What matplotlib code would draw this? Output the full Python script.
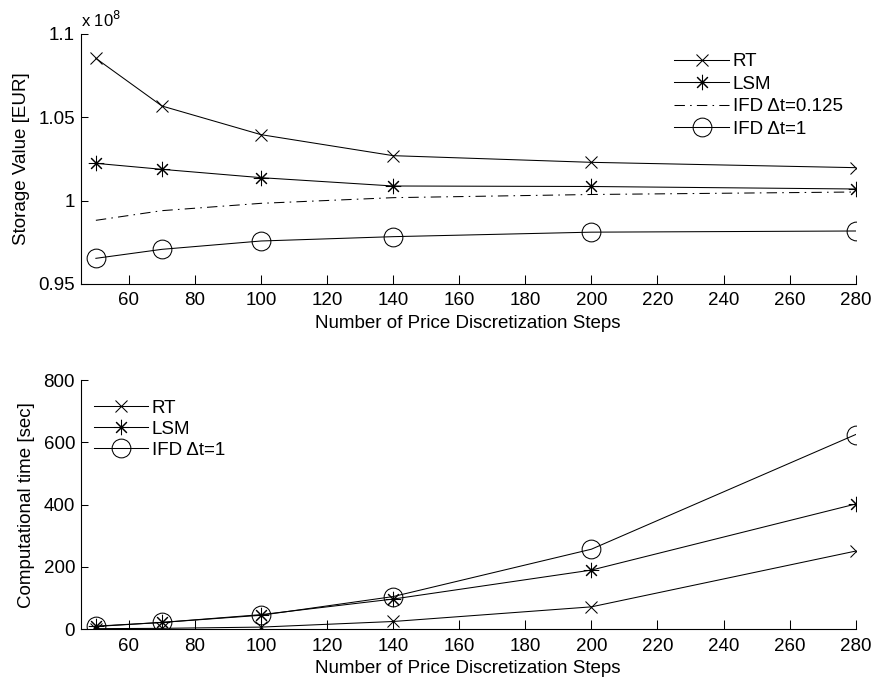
import matplotlib
matplotlib.use('Agg')
import matplotlib.pyplot as plt
from matplotlib.ticker import FuncFormatter

plt.rcParams['font.family'] = 'Liberation Sans'
plt.rcParams['font.size'] = 13.5

# price discretization steps
steps = [50, 70, 100, 140, 200, 280]

# storage value (in 1e8 EUR)
val_rt = [1.0854, 1.0568, 1.0396, 1.0270, 1.0230, 1.0198]
val_lsm = [1.0224, 1.0188, 1.0138, 1.0088, 1.0085, 1.0070]
val_ifd_fine = [0.9882, 0.9940, 0.9984, 1.0018, 1.0037, 1.0052]
val_ifd_1 = [0.9654, 0.9708, 0.9758, 0.9784, 0.9811, 0.9818]

# computational time (sec)
time_rt = [2, 3, 7, 25, 72, 251]
time_lsm = [10, 22, 47, 97, 190, 402]
time_ifd_1 = [9, 22, 45, 105, 257, 625]

xticks = [60, 80, 100, 120, 140, 160, 180, 200, 220, 240, 260, 280]

fig = plt.figure(figsize=(8.74, 6.84), dpi=100)
ax1 = fig.add_axes([0.0923, 0.5848, 0.8867, 0.3655])
ax2 = fig.add_axes([0.0923, 0.0800, 0.8867, 0.3644])

lw = 0.75
mw = 0.75
ax1.plot(steps, val_rt, color='black', lw=lw, marker='x', ms=9, mew=mw, label='RT')
ax1.plot(steps, val_lsm, color='black', lw=lw, marker=(8, 2, 0), ms=11, mew=mw, label='LSM')
ax1.plot(steps, val_ifd_fine, color='black', lw=lw, ls=(0, (10, 5, 1.5, 5)), label='IFD Δt=0.125')
ax1.plot(steps, val_ifd_1, color='black', lw=lw, marker='o', ms=13.5, mfc='none', mew=mw, label='IFD Δt=1')

ax2.plot(steps, time_rt, color='black', lw=lw, marker='x', ms=9, mew=mw, label='RT')
ax2.plot(steps, time_lsm, color='black', lw=lw, marker=(8, 2, 0), ms=11, mew=mw, label='LSM')
ax2.plot(steps, time_ifd_1, color='black', lw=lw, marker='o', ms=13.5, mfc='none', mew=mw, label='IFD Δt=1')

ax1.set_ylim(0.95, 1.1)
ax1.set_yticks([0.95, 1.0, 1.05, 1.1])
ax1.yaxis.set_major_formatter(FuncFormatter(lambda v, p: f'{v:g}'))
ax1.set_ylabel('Storage Value [EUR]', labelpad=6)
ax1.text(0.0, 1.015, r'x 10$^{8}$', transform=ax1.transAxes, ha='left', va='bottom', fontsize=12)

ax2.set_ylim(0, 800)
ax2.set_yticks([0, 200, 400, 600, 800])
ax2.set_ylabel('Computational time [sec]', labelpad=6)

for ax in (ax1, ax2):
    ax.set_xlim(45.4, 280)
    ax.set_xticks(xticks)
    ax.set_xlabel('Number of Price Discretization Steps', labelpad=4)
    ax.spines['top'].set_visible(False)
    ax.spines['right'].set_visible(False)
    for s in ('left', 'bottom'):
        ax.spines[s].set_linewidth(0.8)
    ax.tick_params(axis='x', direction='in', length=6.5, width=0.75, pad=6)
    ax.tick_params(axis='y', direction='in', length=5, width=0.75, pad=4)

ax1.legend(loc='upper right', bbox_to_anchor=(1.0, 0.975), frameon=False,
           handlelength=2.9, handletextpad=0.2, labelspacing=0.28, borderaxespad=0.3)
ax2.legend(loc='upper left', bbox_to_anchor=(0.0, 0.975), frameon=False,
           handlelength=2.9, handletextpad=0.2, labelspacing=0.22, borderaxespad=0.3)

fig.savefig('out.png', dpi=100, facecolor='white')
